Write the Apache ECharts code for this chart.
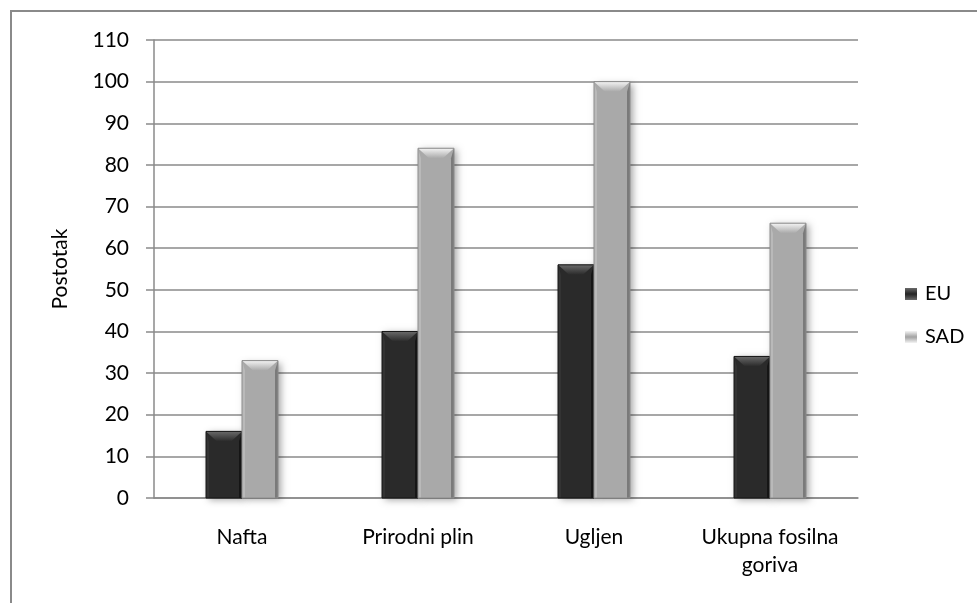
<!DOCTYPE html>
<html>
<head>
<meta charset="utf-8">
<script src="https://cdn.jsdelivr.net/npm/echarts@6/dist/echarts.min.js"></script>
<style>
  html, body { margin: 0; padding: 0; background: #fff; overflow: hidden; }
  #frame {
    position: absolute; left: 10px; top: 10px; width: 1000px; height: 640px;
    border-left: 2px solid #8a8a8a; border-top: 2px solid #8a8a8a; box-sizing: border-box;
  }
  #chart { position: absolute; left: 0; top: 0; width: 977px; height: 603px; }
</style>
</head>
<body>
<div id="frame"></div>
<div id="chart"></div>
<script>
const categories = ['Nafta', 'Prirodni plin', 'Ugljen', 'Ukupna fosilna\ngoriva'];
const euValues = [16, 40, 56, 34];
const sadValues = [33, 84, 100, 66];
const seriesNames = ['EU', 'SAD'];

const FONT = 'Lato, "Open Sans", sans-serif';
const BAR_W = 36;

// palettes for the bevelled bars: body, top facet (light -> body), left edge, right edge
const palettes = [
  { body: '#2a2a2a', topHi: '#6a6a6a', left: '#333333', right: '#161616', border: '#151515' },
  { body: '#a9a9a9', topHi: '#f4f4f4', left: '#b9b9b9', right: '#7a7a7a', border: '#8c8c8c' }
];

function bevelBar(seriesIdx) {
  const pal = palettes[seriesIdx];
  return function (params, api) {
    const cat = api.value(0);
    const val = api.value(1);
    const top = api.coord([cat, val]);
    const base = api.coord([cat, 0]);
    const x0 = top[0] + (seriesIdx === 0 ? -BAR_W : 0);
    const x1 = x0 + BAR_W;
    const yT = top[1];
    const yB = base[1];
    const h = yB - yT;
    const t = Math.min(10, h / 2);
    const s = 3;
    return {
      type: 'group',
      children: [
        {
          type: 'rect',
          shape: { x: x0, y: yT, width: BAR_W, height: h },
          style: {
            fill: pal.body,
            shadowColor: 'rgba(0,0,0,0.35)',
            shadowBlur: 7,
            shadowOffsetX: 3,
            shadowOffsetY: 2
          }
        },
        {
          type: 'polygon',
          shape: { points: [[x0, yT], [x0 + s, yT + t], [x0 + s, yB], [x0, yB]] },
          style: { fill: pal.left }
        },
        {
          type: 'polygon',
          shape: { points: [[x1, yT], [x1 - s, yT + t], [x1 - s, yB], [x1, yB]] },
          style: { fill: pal.right }
        },
        {
          type: 'polygon',
          shape: { points: [[x0, yT], [x1, yT], [x1 - t - 1, yT + t], [x0 + t + 1, yT + t]] },
          style: {
            fill: new echarts.graphic.LinearGradient(0, 0, 0, 1, [
              { offset: 0, color: pal.topHi },
              { offset: 1, color: pal.body }
            ])
          }
        },
        {
          type: 'rect',
          shape: { x: x0, y: yT, width: BAR_W, height: h },
          style: { fill: 'none', stroke: pal.border, lineWidth: 1 }
        }
      ]
    };
  };
}

function legendIcon(pal) {
  return new echarts.graphic.LinearGradient(0, 0, 0, 1, [
    { offset: 0, color: pal.topHi },
    { offset: 0.45, color: pal.body },
    { offset: 0.55, color: pal.body },
    { offset: 1, color: pal.topHi }
  ]);
}

const chart = echarts.init(document.getElementById('chart'), null, { renderer: 'canvas' });
chart.setOption({
  animation: false,
  backgroundColor: 'transparent',
  grid: { left: 154, right: 119, top: 40, bottom: 105, containLabel: false },
  legend: {
    orient: 'vertical',
    left: 900,
    top: 279,
    itemWidth: 12,
    itemHeight: 12,
    itemGap: 23,
    icon: 'rect',
    textStyle: { fontFamily: FONT, fontSize: 20, lineHeight: 20, color: '#000', padding: [0, 0, 0, 3] },
    data: [
      { name: seriesNames[0], itemStyle: { color: legendIcon(palettes[0]) } },
      { name: seriesNames[1], itemStyle: { color: legendIcon(palettes[1]) } }
    ]
  },
  xAxis: {
    type: 'category',
    data: categories,
    axisLine: { lineStyle: { color: '#8a8a8a', width: 1.5 } },
    axisTick: { show: false },
    axisLabel: {
      fontFamily: FONT, fontSize: 21, color: '#000', margin: 25,
      lineHeight: 28, interval: 0
    }
  },
  yAxis: {
    type: 'value',
    min: 0, max: 110, interval: 10,
    name: 'Postotak',
    nameLocation: 'middle',
    nameGap: 83,
    nameTextStyle: { fontFamily: FONT, fontSize: 21, color: '#000' },
    axisLine: { show: true, lineStyle: { color: '#8a8a8a', width: 1.5 } },
    axisTick: { show: true, length: 8, lineStyle: { color: '#8a8a8a', width: 1.5 } },
    axisLabel: { fontFamily: FONT, fontSize: 21, color: '#000', margin: 25 },
    splitLine: { lineStyle: { color: '#8a8a8a', width: 1.5 } }
  },
  series: [
    {
      name: seriesNames[0],
      type: 'custom',
      renderItem: bevelBar(0),
      encode: { x: 0, y: 1 },
      itemStyle: { color: palettes[0].body },
      data: euValues.map((v, i) => [i, v])
    },
    {
      name: seriesNames[1],
      type: 'custom',
      renderItem: bevelBar(1),
      encode: { x: 0, y: 1 },
      itemStyle: { color: palettes[1].body },
      data: sadValues.map((v, i) => [i, v])
    }
  ]
});
</script>
</body>
</html>
